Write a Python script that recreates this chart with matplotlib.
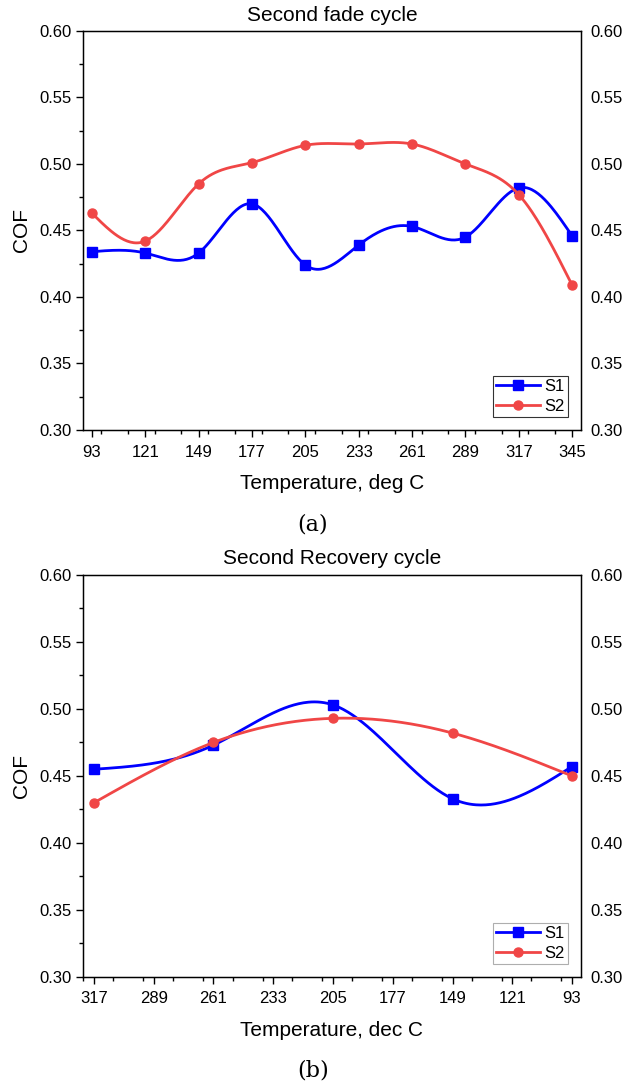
import numpy as np
import matplotlib.pyplot as plt
from matplotlib.ticker import MultipleLocator

# panel (a): second fade cycle
temp_a = [93, 121, 149, 177, 205, 233, 261, 289, 317, 345]
s1_a = [0.434, 0.433, 0.433, 0.470, 0.424, 0.439, 0.453, 0.445, 0.482, 0.446]
s2_a = [0.463, 0.442, 0.485, 0.501, 0.514, 0.515, 0.515, 0.500, 0.477, 0.409]

# panel (b): second recovery cycle
temp_b = [317, 261, 205, 149, 93]
ticks_b = [317, 289, 261, 233, 205, 177, 149, 121, 93]
s1_b = [0.455, 0.473, 0.503, 0.433, 0.457]
s2_b = [0.430, 0.475, 0.493, 0.482, 0.450]

BLUE = "#0000ff"
RED = "#f04646"
plt.rcParams["font.family"] = ["Liberation Sans", "DejaVu Sans"]


def natural_spline(x, y, n=300):
    """Natural cubic spline through the points, for Origin-style smooth lines."""
    order = np.argsort(x)
    x = np.asarray(x, float)[order]
    y = np.asarray(y, float)[order]
    h = np.diff(x)
    k = len(x)
    A = np.zeros((k, k))
    b = np.zeros(k)
    A[0, 0] = A[-1, -1] = 1
    for i in range(1, k - 1):
        A[i, i - 1] = h[i - 1]
        A[i, i] = 2 * (h[i - 1] + h[i])
        A[i, i + 1] = h[i]
        b[i] = 6 * ((y[i + 1] - y[i]) / h[i] - (y[i] - y[i - 1]) / h[i - 1])
    M = np.linalg.solve(A, b)
    xs = np.linspace(x[0], x[-1], n)
    idx = np.clip(np.searchsorted(x, xs) - 1, 0, k - 2)
    x0, x1 = x[idx], x[idx + 1]
    hh = x1 - x0
    t0, t1 = x1 - xs, xs - x0
    ys = (M[idx] * t0**3 + M[idx + 1] * t1**3) / (6 * hh) \
        + (y[idx] / hh - M[idx] * hh / 6) * t0 \
        + (y[idx + 1] / hh - M[idx + 1] * hh / 6) * t1
    return xs, ys


def draw_panel(ax, temps, s1, s2, ticks, title, xlabel, xlim,
               title_pad, tick_pad, xlabel_pad, leg_edge):
    for vals, col, mk, lab in [(s1, BLUE, "s", "S1"), (s2, RED, "o", "S2")]:
        xs, ys = natural_spline(temps, vals)
        ax.plot(xs, ys, color=col, lw=2)
        ax.plot(temps, vals, ls="none", marker=mk, color=col, ms=6.5)
        ax.plot([], [], color=col, lw=2, marker=mk, ms=6.5, label=lab)
    ax.set_xlim(*xlim)
    ax.set_ylim(0.30, 0.60)
    ax.set_xticks(ticks)
    ax.xaxis.set_minor_locator(MultipleLocator(14))
    ax.yaxis.set_major_locator(MultipleLocator(0.05))
    ax.yaxis.set_minor_locator(MultipleLocator(0.025))
    ax.yaxis.set_major_formatter("{x:.2f}")
    ax.tick_params(which="both", direction="out", labelsize=12, top=False, right=False)
    ax.tick_params(which="major", length=5, width=1)
    ax.tick_params(which="minor", length=3, width=1)
    ax.tick_params(axis="x", which="major", pad=tick_pad)
    ax.tick_params(axis="y", which="major", pad=3)
    ax.set_title(title, fontsize=15, pad=title_pad)
    ax.set_xlabel(xlabel, fontsize=15, labelpad=xlabel_pad)
    ax.set_ylabel("COF", fontsize=15, labelpad=6)
    for sp in ax.spines.values():
        sp.set_linewidth(1)
    leg = ax.legend(loc="lower right", fontsize=12, frameon=True, fancybox=False,
                    edgecolor=leg_edge, handlelength=2.6, borderpad=0.2,
                    labelspacing=0.3, handletextpad=0.3, borderaxespad=0.75)
    leg.get_frame().set_linewidth(0.8)
    # right-hand duplicate axis
    ax2 = ax.twinx()
    ax2.set_ylim(0.30, 0.60)
    ax2.yaxis.set_major_locator(MultipleLocator(0.05))
    ax2.yaxis.set_major_formatter("{x:.2f}")
    ax2.tick_params(axis="y", length=0, labelsize=12, pad=6.5)


fig = plt.figure(figsize=(6.36, 10.86), dpi=100)
ax_a = fig.add_axes([0.1305, 0.6041, 0.783, 0.3674])
ax_b = fig.add_axes([0.1305, 0.1004, 0.783, 0.3702])

draw_panel(ax_a, temp_a, s1_a, s2_a, temp_a, "Second fade cycle",
           "Temperature, deg C", (88.3, 349.7), 7, 6, 10, "black")
draw_panel(ax_b, temp_b, s1_b, s2_b, ticks_b, "Second Recovery cycle",
           "Temperature, dec C", (322.15, 88.8), 8, 5, 11, "#9a9a9a")

fig.text(0.492, 0.5166, "(a)", ha="center", va="center", fontsize=16,
         family="DejaVu Serif")
fig.text(0.492, 0.0147, "(b)", ha="center", va="center", fontsize=16,
         family="DejaVu Serif")

fig.savefig("out.png", dpi=100)
